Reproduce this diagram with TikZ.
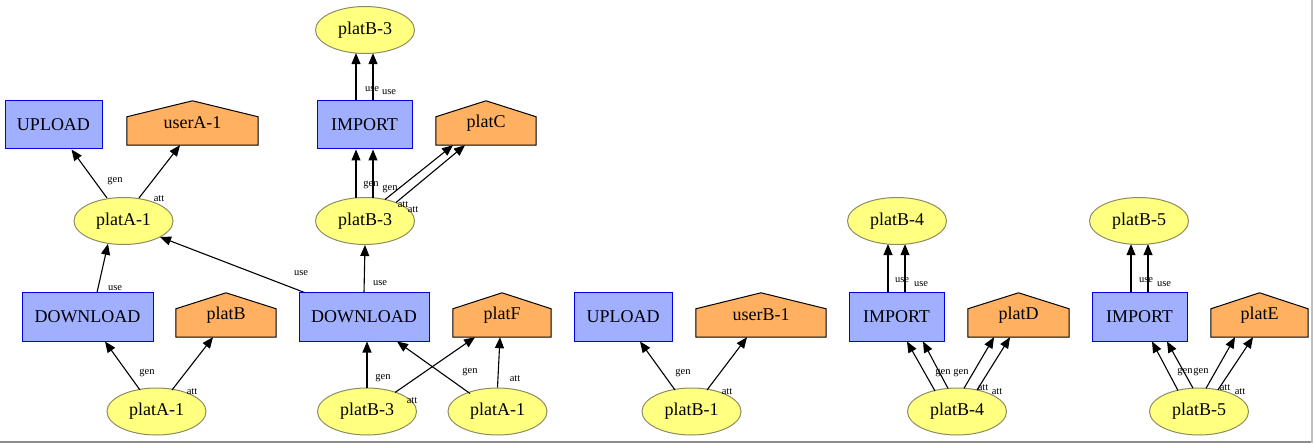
\documentclass[tikz,border=0pt]{standalone}
\usepackage{fontspec}
\setmainfont{Liberation Serif}
\usetikzlibrary{arrows.meta,shapes.geometric,backgrounds}
\definecolor{elfill}{RGB}{255,255,128}
\definecolor{eldraw}{RGB}{140,140,100}
\definecolor{boxfill}{RGB}{160,176,255}
\definecolor{boxdraw}{RGB}{0,0,230}
\definecolor{housefill}{RGB}{255,176,96}
\newcommand\drawhouse[1]{\filldraw[housepath] (#1.south west) -- (#1.south east) -- ([yshift=-16pt]#1.north east) -- (#1.north) -- ([yshift=-16pt]#1.north west) -- cycle;}
\begin{document}
\begin{tikzpicture}[x=1pt,y=-1pt,
  every node/.style={font=\fontsize{18}{20}\selectfont, inner sep=0pt},
  ell/.style={ellipse, draw=eldraw, fill=elfill, line width=1pt, minimum width=99pt, minimum height=47pt},
  box/.style={rectangle, draw=boxdraw, fill=boxfill, line width=1pt, minimum height=48pt, minimum width=#1},
  house/.style={rectangle, minimum height=44pt, minimum width=#1},
  housepath/.style={draw=black, fill=housefill, line width=1pt},
  lab/.style={font=\fontsize{10.5}{12}\selectfont, inner sep=0pt},
  conn/.style={draw=black, line width=1.1pt, -{Triangle[length=11pt,width=9pt]}}]
\useasboundingbox (0,0) rectangle (1313,443);

% nodes
\node[box=97pt] (up1) at (53.5,125) {UPLOAD};
\node[house=131pt] (uA) at (192.5,123) {userA-1};
\node[ell] (pA1) at (123.5,221) {platA-1};
\node[box=131pt] (dl1) at (87.5,317) {DOWNLOAD};
\node[house=100pt] (pB) at (226,315) {platB};
\node[ell] (pA1b) at (156.5,411.5) {platA-1};

\node[ell] (pB3t) at (365,30) {platB-3};
\node[box=95pt] (imp1) at (364.5,125) {IMPORT};
\node[house=100pt] (pC) at (486,123) {platC};
\node[ell] (pB3m) at (365,221) {platB-3};
\node[box=130pt] (dl2) at (364,317) {DOWNLOAD};
\node[house=98pt] (pF) at (502,315) {platF};
\node[ell] (pB3b) at (367,411.5) {platB-3};
\node[ell] (pA1r) at (497.5,411.5) {platA-1};

\node[box=98pt] (up2) at (623,317) {UPLOAD};
\node[house=130pt] (uB) at (761,315) {userB-1};
\node[ell] (pB1) at (691.5,411.5) {platB-1};

\node[ell] (pB4t) at (897,221) {platB-4};
\node[box=95pt] (imp2) at (896.5,317) {IMPORT};
\node[house=101pt] (pD) at (1018.5,315) {platD};
\node[ell] (pB4b) at (957,411.5) {platB-4};

\node[ell] (pB5t) at (1139,221) {platB-5};
\node[box=95pt] (imp3) at (1139.5,317) {IMPORT};
\node[house=97pt] (pE) at (1259.5,315) {platE};
\node[ell] (pB5b) at (1199,411.5) {platB-5};

\begin{scope}[on background layer]
\fill[white] (0,0) rectangle (1313,443);
\fill[gray!90] (0,441) rectangle (1311,443);
\fill[gray!50] (1311,0) rectangle (1313,443);
\drawhouse{uA}
\drawhouse{pB}
\drawhouse{pC}
\drawhouse{pF}
\drawhouse{uB}
\drawhouse{pD}
\drawhouse{pE}
\end{scope}

% edges
\draw[conn] ([shift={(-16.5,-23)}]pA1.center) -- ([xshift=18pt]up1.south);
\draw[conn] ([shift={(15.5,-23)}]pA1.center) -- ([xshift=-12.5pt]uA.south);
\draw[conn] ([xshift=9.5pt]dl1.north) -- ([shift={(-15.5,22.8)}]pA1.center);
\draw[conn] ([xshift=6pt]dl2.north west) -- ([shift={(36.5,16)}]pA1.center);

\draw[conn] ([xshift=-8.5pt]imp1.north) -- ([shift={(-9,23.1)}]pB3t.center);
\draw[conn] ([xshift=8.5pt]imp1.north) -- ([shift={(8,23.2)}]pB3t.center);
\draw[conn] ([shift={(-9,-23.1)}]pB3m.center) -- ([xshift=-8.5pt]imp1.south);
\draw[conn] ([shift={(8,-23.2)}]pB3m.center) -- ([xshift=8.5pt]imp1.south);
\draw[conn] ([shift={(20,-21.5)}]pB3m.center) -- ([xshift=-33pt]pC.south);
\draw[conn] ([shift={(31,-18.5)}]pB3m.center) -- ([xshift=-21pt]pC.south);
\draw[conn] (dl2.north) -- (pB3m.south);

\draw[conn] ([shift={(-16.5,-21.5)}]pA1b.center) -- ([xshift=17.5pt]dl1.south);
\draw[conn] ([shift={(15.5,-21.5)}]pA1b.center) -- ([xshift=-13pt]pB.south);
\draw[conn] (pB3b.north) -- ([xshift=3pt]dl2.south);
\draw[conn] ([shift={(28,-19)}]pB3b.center) -- ([xshift=-27pt]pF.south);
\draw[conn] ([shift={(-27.5,-18)}]pA1r.center) -- ([xshift=33pt]dl2.south);
\draw[conn] (pA1r.north) -- ([xshift=-2pt]pF.south);

\draw[conn] ([shift={(-16.5,-21.5)}]pB1.center) -- ([xshift=17pt]up2.south);
\draw[conn] ([shift={(15.5,-21.5)}]pB1.center) -- ([xshift=-14pt]uB.south);

\draw[conn] ([xshift=-8.5pt]imp2.north) -- ([shift={(-9,23.1)}]pB4t.center);
\draw[conn] ([xshift=8.5pt]imp2.north) -- ([shift={(8,23.2)}]pB4t.center);
\draw[conn] ([shift={(-22,-20.5)}]pB4b.center) -- ([xshift=10.5pt]imp2.south);
\draw[conn] ([shift={(-9,-23.1)}]pB4b.center) -- ([xshift=26.5pt]imp2.south);
\draw[conn] ([shift={(7,-23.2)}]pB4b.center) -- ([xshift=-24.5pt]pD.south);
\draw[conn] ([shift={(20,-21.5)}]pB4b.center) -- ([xshift=-8.5pt]pD.south);

\draw[conn] ([xshift=-8.5pt]imp3.north) -- ([shift={(-8,23.2)}]pB5t.center);
\draw[conn] ([xshift=8.5pt]imp3.north) -- ([shift={(9,23.1)}]pB5t.center);
\draw[conn] ([shift={(-21,-21)}]pB5b.center) -- ([xshift=12.5pt]imp3.south);
\draw[conn] ([shift={(-6,-23.3)}]pB5b.center) -- ([xshift=27.5pt]imp3.south);
\draw[conn] ([shift={(7,-23.2)}]pB5b.center) -- ([xshift=-24.5pt]pE.south);
\draw[conn] ([shift={(19,-21.7)}]pB5b.center) -- ([xshift=-6.5pt]pE.south);

% labels
\node[lab] (l1) at (115,181) {gen};
\node[lab] (l2) at (159,199) {att};
\node[lab] (l3) at (115,288) {use};
\node[lab] (l4) at (301,273) {use};
\node[lab] (l5) at (372,89) {use};
\node[lab] (l6) at (389,92) {use};
\node[lab] (l7) at (371,185) {gen};
\node[lab] (l8) at (390,189) {gen};
\node[lab] (l9) at (403,205) {att};
\node[lab] (l10) at (413,210) {att};
\node[lab] (l11) at (380,283) {use};
\node[lab] (l12) at (147,373) {gen};
\node[lab] (l13) at (192,392) {att};
\node[lab] (l14) at (383,378) {gen};
\node[lab] (l15) at (412,401) {att};
\node[lab] (l16) at (470,372) {gen};
\node[lab] (l17) at (515,379) {att};
\node[lab] (l18) at (683,373) {gen};
\node[lab] (l19) at (727,392) {att};
\node[lab] (l20) at (902,280) {use};
\node[lab] (l21) at (921,284) {use};
\node[lab] (l22) at (943,373) {gen};
\node[lab] (l23) at (961,373) {gen};
\node[lab] (l24) at (983,388) {att};
\node[lab] (l25) at (997,392) {att};
\node[lab] (l26) at (1146,280) {use};
\node[lab] (l27) at (1164,284) {use};
\node[lab] (l28) at (1185,372) {gen};
\node[lab] (l29) at (1201,372) {gen};
\node[lab] (l30) at (1225,388) {att};
\node[lab] (l31) at (1240,392) {att};
\end{tikzpicture}
\end{document}
